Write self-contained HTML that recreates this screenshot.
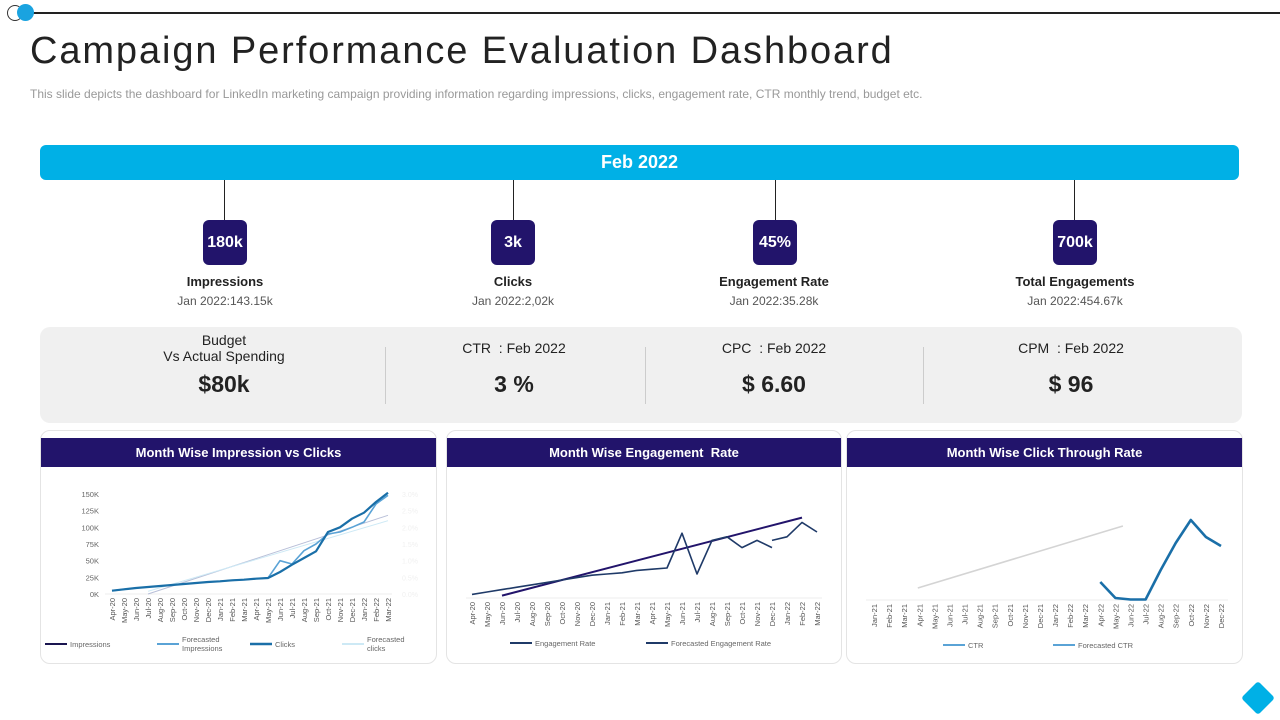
<!DOCTYPE html>
<html><head><meta charset="utf-8">
<style>
*{margin:0;padding:0;box-sizing:border-box}
body{width:1280px;height:720px;overflow:hidden;background:#fff;font-family:"Liberation Sans",sans-serif;position:relative}
.abs{position:absolute}
.kpi{position:absolute;width:44px;height:45px;background:#22146b;border-radius:6px;color:#fff;font-weight:bold;font-size:16px;display:flex;align-items:center;justify-content:center}
.stem{position:absolute;width:1px;background:#222;top:180px;height:40px}
.lab{position:absolute;width:240px;text-align:center;font-size:13px;font-weight:bold;color:#222}
.sub{position:absolute;width:240px;text-align:center;font-size:12px;color:#555}
.mtitle{position:absolute;width:240px;text-align:center;font-size:14px;color:#222}
.mval{position:absolute;width:240px;text-align:center;font-size:23px;font-weight:bold;color:#222}
.card{position:absolute;top:430px;height:234px;border:1px solid #e4e4e4;border-radius:10px;background:#fff}
.chead{position:absolute;top:438px;height:29px;background:#22146b;color:#fff;font-weight:bold;font-size:13px;display:flex;align-items:center;justify-content:center}
</style></head><body>
<div class="abs" style="left:30px;top:12px;width:1250px;height:1.5px;background:#222"></div>
<div class="abs" style="left:7px;top:5px;width:16px;height:16px;border:1.5px solid #333;border-radius:50%"></div>
<div class="abs" style="left:17px;top:4px;width:17px;height:17px;background:#1aa3e0;border-radius:50%"></div>
<div class="abs" style="left:30px;top:30px;font-size:38px;color:#222;letter-spacing:1.9px">Campaign Performance Evaluation Dashboard</div>
<div class="abs" style="left:30px;top:87px;font-size:12px;color:#999">This slide depicts the dashboard for LinkedIn marketing campaign providing information regarding impressions, clicks, engagement rate, CTR monthly trend, budget etc.</div>

<div class="abs" style="left:40px;top:145px;width:1199px;height:35px;background:#00b0e6;border-radius:6px;color:#fff;font-size:18px;font-weight:bold;display:flex;align-items:center;justify-content:center">Feb 2022</div>

<div class="stem" style="left:224px"></div>
<div class="stem" style="left:513px"></div>
<div class="stem" style="left:775px"></div>
<div class="stem" style="left:1074px"></div>

<div class="kpi" style="left:203px;top:220px">180k</div>
<div class="kpi" style="left:491px;top:220px">3k</div>
<div class="kpi" style="left:753px;top:220px">45%</div>
<div class="kpi" style="left:1053px;top:220px">700k</div>

<div class="lab" style="left:105px;top:274px">Impressions</div>
<div class="sub" style="left:105px;top:294px">Jan 2022:143.15k</div>
<div class="lab" style="left:393px;top:274px">Clicks</div>
<div class="sub" style="left:393px;top:294px">Jan 2022:2,02k</div>
<div class="lab" style="left:654px;top:274px">Engagement Rate</div>
<div class="sub" style="left:654px;top:294px">Jan 2022:35.28k</div>
<div class="lab" style="left:955px;top:274px">Total Engagements</div>
<div class="sub" style="left:955px;top:294px">Jan 2022:454.67k</div>

<div class="abs" style="left:40px;top:327px;width:1202px;height:96px;background:#f0f0f0;border-radius:10px"></div>
<div class="abs" style="left:385px;top:347px;width:1px;height:57px;background:#ccc"></div>
<div class="abs" style="left:645px;top:347px;width:1px;height:57px;background:#ccc"></div>
<div class="abs" style="left:923px;top:347px;width:1px;height:57px;background:#ccc"></div>
<div class="mtitle" style="left:104px;top:332px;line-height:16px">Budget<br>Vs Actual Spending</div>
<div class="mval" style="left:104px;top:371px">$80k</div>
<div class="mtitle" style="left:394px;top:340px">CTR&nbsp; : Feb 2022</div>
<div class="mval" style="left:394px;top:371px">3 %</div>
<div class="mtitle" style="left:654px;top:340px">CPC&nbsp; : Feb 2022</div>
<div class="mval" style="left:654px;top:371px">$ 6.60</div>
<div class="mtitle" style="left:951px;top:340px">CPM&nbsp; : Feb 2022</div>
<div class="mval" style="left:951px;top:371px">$ 96</div>

<div class="card" style="left:40px;width:397px"></div>
<div class="card" style="left:446px;width:396px"></div>
<div class="card" style="left:846px;width:397px"></div>
<div class="chead" style="left:41px;width:395px">Month Wise Impression vs Clicks</div>
<div class="chead" style="left:447px;width:394px">Month Wise Engagement&nbsp; Rate</div>
<div class="chead" style="left:847px;width:395px">Month Wise Click Through Rate</div>

<svg id="charts" class="abs" style="left:0;top:0" width="1280" height="720"></svg>

<div class="abs" style="left:1246px;top:686px;width:24px;height:24px;background:#00b0e6;transform:rotate(45deg);border-radius:3px"></div>

<script>
// Chart 1 data
const months1 = ["Apr-20","May-20","Jun-20","Jul-20","Aug-20","Sep-20","Oct-20","Nov-20","Dec-20","Jan-21","Feb-21","Mar-21","Apr-21","May-21","Jun-21","Jul-21","Aug-21","Sep-21","Oct-21","Nov-21","Dec-21","Jan-22","Feb-22","Mar-22"];
const yTicks1 = [0,25,50,75,100,125,150];
const clicks1 = [5,7,9,10.5,12,13.5,15,16.5,18,19,20.5,21.5,23,24,33,44,54,64,93,100,113,122,138,152];
const forecastImpr1 = [5,7,9,10.5,12,13.5,15,16.5,18,19,20.5,21.5,23,24,50,45,65,75,90,93,100,108,135,148];
const trendA1 = [0,118]; // Jul-20 to Mar-22
const trendB1 = [4,110];
// Chart 2 data
const months2 = months1;
const engRate2 = [3,5,7,9,11,13,15,17,19,20,21,23,24,25,54,20,48,51,42,48,42,null,null,null];
const engRate2b = [null,null,null,null,null,null,null,null,null,null,null,null,null,null,null,null,null,null,null,null,48,51,63,55];
const engTrend2 = [2,67]; // Jun-20 to Feb-22
// Chart 3 data
const months3 = ["Jan-21","Feb-21","Mar-21","Apr-21","May-21","Jun-21","Jul-21","Aug-21","Sep-21","Oct-21","Nov-21","Dec-21","Jan-22","Feb-22","Mar-22","Apr-22","May-22","Jun-22","Jul-22","Aug-22","Sep-22","Oct-22","Nov-22","Dec-22"];
const ctr3 = [null,null,null,null,null,null,null,null,null,null,null,null,null,null,null,18,2,0.5,0.5,30,57,80,63,54];
const ctrTrend3 = [12,74]; // Apr-21 to mid Jun-22

const svg=document.getElementById('charts');
const NS="http://www.w3.org/2000/svg";
function mk(tag,attrs){const e=document.createElementNS(NS,tag);for(const k in attrs)e.setAttribute(k,attrs[k]);svg.appendChild(e);return e;}
function line(xf,yf,vals,stroke,w,name){let d="",pen=false;vals.forEach((v,i)=>{if(v===null){pen=false;return;}d+=(pen?"L":"M")+xf(i).toFixed(1)+","+yf(v).toFixed(1);pen=true;});const p=mk('path',{d:d,fill:'none',stroke:stroke,'stroke-width':w,'stroke-linejoin':'round'});return p;}
function xlabels(xf,labels,y,name){labels.forEach((m,i)=>{const x=xf(i);const t=mk('text',{x:x+3,y:y,'font-size':'7.5','fill':'#555','text-anchor':'end',transform:`rotate(-90 ${x+3} ${y})`,'font-family':'Liberation Sans'});t.textContent=m;});}
function legend(x,y,color,w,text,name,two){const l=mk('line',{x1:x,y1:y,x2:x+22,y2:y,stroke:color,'stroke-width':w});const t=mk('text',{x:x+25,y:two?y-2:y+3,'font-size':'7.5',fill:'#666','font-family':'Liberation Sans'});if(two){t.innerHTML=`<tspan x="${x+25}">${text[0]}</tspan><tspan x="${x+25}" dy="9">${text[1]}</tspan>`;}else t.textContent=text;}

// Chart 1
const x1=i=>112+i*(388-112)/23, y1=v=>594-v*(100/150);
yTicks1.forEach(v=>{const t=mk('text',{x:99,y:y1(v)+3,'font-size':'7.5',fill:'#666','text-anchor':'end','font-family':'Liberation Sans'});t.textContent=v+'K';
const r=mk('text',{x:402,y:y1(v)+3,'font-size':'7',fill:'#f0f0f0','font-family':'Liberation Sans'});r.textContent=(v/25*0.5).toFixed(1)+'%';});
mk('line',{x1:105,y1:594,x2:392,y2:594,stroke:'#eee'});
line(i=>x1(3+i*20),y1,trendA1,'#b8bfd8',1,'impressions-trend');
line(i=>x1(3+i*20),y1,trendB1,'#cde9f5',1,'clicks-trend');
line(x1,y1,forecastImpr1,'#5aa3d6',1.6,'forecasted-impressions-line');
line(x1,y1,clicks1,'#1a6fa8',2.2,'clicks-line');
xlabels(x1,months1,598,'x-tick-label');
legend(45,644,'#1a1550',2,'Impressions','legend-impressions');
legend(157,644,'#5aa3d6',2,['Forecasted','Impressions'],'legend-forecasted-impressions',true);
legend(250,644,'#1a6fa8',2.5,'Clicks','legend-clicks');
legend(342,644,'#cde9f5',2,['Forecasted','clicks'],'legend-forecasted-clicks',true);

// Chart 2
const x2=i=>472+i*(817-472)/23, y2=v=>598-v*1.2;
mk('line',{x1:466,y1:598,x2:822,y2:598,stroke:'#eee'});
line(i=>x2(2+i*20),y2,engTrend2,'#22146b',2,'forecasted-engagement-line');
line(x2,y2,engRate2,'#1f3a68',1.6,'engagement-rate-line');
line(x2,y2,engRate2b,'#1f3a68',1.6,'engagement-rate-line-2');
xlabels(x2,months2,602,'x-tick-label');
legend(510,643,'#1f3a68',2,'Engagement Rate','legend-engagement-rate');
legend(646,643,'#1f3a68',2,'Forecasted Engagement Rate','legend-forecasted-engagement');

// Chart 3
const x3=i=>874+i*(1221-874)/23, y3=v=>600-v*1.0;
mk('line',{x1:866,y1:600,x2:1228,y2:600,stroke:'#eee'});
line(i=>x3(2.9+i*13.6),y3,ctrTrend3,'#d4d4d4',1.6,'forecasted-ctr-line');
line(x3,y3,ctr3,'#1a6fa8',2.6,'ctr-line');
xlabels(x3,months3,604,'x-tick-label');
legend(943,645,'#5aa3d6',2,'CTR','legend-ctr');
legend(1053,645,'#5aa3d6',2,'Forecasted CTR','legend-forecasted-ctr');
</script>
</body></html>
